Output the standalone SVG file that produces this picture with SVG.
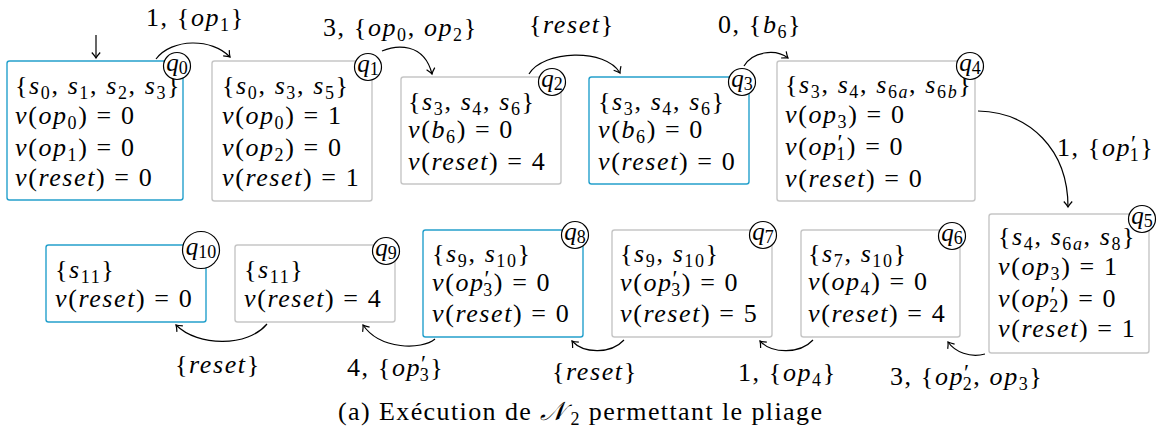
<svg xmlns="http://www.w3.org/2000/svg" width="1158" height="446" viewBox="0 0 1158 446">
<style>
.box{fill:#fff;stroke:#c6c6c6;stroke-width:1.4}
.blue{stroke:#24a0cc}
.t{font-family:'Liberation Serif','DejaVu Serif',serif;font-size:26px;letter-spacing:1.6px;fill:#000}
.i{font-style:italic}
.s{font-size:18px}
.p{font-size:23px}
.c{fill:#fff;stroke:#000;stroke-width:1.2}
.q{font-family:'Liberation Serif','DejaVu Serif',serif;font-size:25px;fill:#000;text-anchor:middle}
.e{fill:none;stroke:#000;stroke-width:1.2;marker-end:url(#arr)}
.cap{font-family:'Liberation Serif','DejaVu Serif',serif;font-size:26px;fill:#000}
</style>
<defs>
<marker id="arr" viewBox="-7 -6 9 12" markerWidth="9" markerHeight="12" refX="0" refY="0" orient="auto" markerUnits="userSpaceOnUse">
<path d="M-5.5,-4.2 Q-2,-1 0,0 Q-2,1 -5.5,4.2" fill="none" stroke="#000" stroke-width="1.2"/>
</marker>
</defs>
<rect width="1158" height="446" fill="#fff"/>

<g id="q0">
<rect class="box blue" x="7" y="61" width="176" height="139" rx="2.5"/>
<text class="t" x="15" y="94">{<tspan class="i">s</tspan><tspan class="s" dy="5">0</tspan><tspan dy="-5">, </tspan><tspan class="i">s</tspan><tspan class="s" dy="5">1</tspan><tspan dy="-5">, </tspan><tspan class="i">s</tspan><tspan class="s" dy="5">2</tspan><tspan dy="-5">, </tspan><tspan class="i">s</tspan><tspan class="s" dy="5">3</tspan><tspan dy="-5">}</tspan></text>
<text class="t" x="15" y="124"><tspan class="i">v</tspan>(<tspan class="i">op</tspan><tspan class="s" dy="5">0</tspan><tspan dy="-5">) = 0</tspan></text>
<text class="t" x="15" y="156"><tspan class="i">v</tspan>(<tspan class="i">op</tspan><tspan class="s" dy="5">1</tspan><tspan dy="-5">) = 0</tspan></text>
<text class="t" x="15" y="186"><tspan class="i">v</tspan>(<tspan class="i">reset</tspan>) = 0</text>
<circle class="c" cx="177" cy="66" r="13.5"/>
<text class="q" x="177" y="71"><tspan class="i">q</tspan><tspan class="s" dy="3">0</tspan></text>
</g>

<g id="q1">
<rect class="box" x="212" y="61" width="160" height="140" rx="2.5"/>
<text class="t" x="222" y="94">{<tspan class="i">s</tspan><tspan class="s" dy="5">0</tspan><tspan dy="-5">, </tspan><tspan class="i">s</tspan><tspan class="s" dy="5">3</tspan><tspan dy="-5">, </tspan><tspan class="i">s</tspan><tspan class="s" dy="5">5</tspan><tspan dy="-5">}</tspan></text>
<text class="t" x="222" y="124"><tspan class="i">v</tspan>(<tspan class="i">op</tspan><tspan class="s" dy="5">0</tspan><tspan dy="-5">) = 1</tspan></text>
<text class="t" x="222" y="156"><tspan class="i">v</tspan>(<tspan class="i">op</tspan><tspan class="s" dy="5">2</tspan><tspan dy="-5">) = 0</tspan></text>
<text class="t" x="222" y="186"><tspan class="i">v</tspan>(<tspan class="i">reset</tspan>) = 1</text>
<circle class="c" cx="368" cy="67" r="13.5"/>
<text class="q" x="368" y="72"><tspan class="i">q</tspan><tspan class="s" dy="3">1</tspan></text>
</g>

<g id="q2">
<rect class="box" x="401" y="77" width="160" height="107" rx="2.5"/>
<text class="t" x="408" y="110">{<tspan class="i">s</tspan><tspan class="s" dy="5">3</tspan><tspan dy="-5">, </tspan><tspan class="i">s</tspan><tspan class="s" dy="5">4</tspan><tspan dy="-5">, </tspan><tspan class="i">s</tspan><tspan class="s" dy="5">6</tspan><tspan dy="-5">}</tspan></text>
<text class="t" x="408" y="138"><tspan class="i">v</tspan>(<tspan class="i">b</tspan><tspan class="s" dy="5">6</tspan><tspan dy="-5">) = 0</tspan></text>
<text class="t" x="408" y="170"><tspan class="i">v</tspan>(<tspan class="i">reset</tspan>) = 4</text>
<circle class="c" cx="552" cy="82" r="13.5"/>
<text class="q" x="552" y="87"><tspan class="i">q</tspan><tspan class="s" dy="3">2</tspan></text>
</g>

<g id="q3">
<rect class="box blue" x="589" y="77" width="160" height="107" rx="2.5"/>
<text class="t" x="598" y="110">{<tspan class="i">s</tspan><tspan class="s" dy="5">3</tspan><tspan dy="-5">, </tspan><tspan class="i">s</tspan><tspan class="s" dy="5">4</tspan><tspan dy="-5">, </tspan><tspan class="i">s</tspan><tspan class="s" dy="5">6</tspan><tspan dy="-5">}</tspan></text>
<text class="t" x="598" y="138"><tspan class="i">v</tspan>(<tspan class="i">b</tspan><tspan class="s" dy="5">6</tspan><tspan dy="-5">) = 0</tspan></text>
<text class="t" x="598" y="170"><tspan class="i">v</tspan>(<tspan class="i">reset</tspan>) = 0</text>
<circle class="c" cx="742" cy="82" r="13.5"/>
<text class="q" x="742" y="87"><tspan class="i">q</tspan><tspan class="s" dy="3">3</tspan></text>
</g>

<g id="q4">
<rect class="box" x="777" y="61" width="198" height="140" rx="2.5"/>
<text class="t" x="785" y="93">{<tspan class="i">s</tspan><tspan class="s" dy="5">3</tspan><tspan dy="-5">, </tspan><tspan class="i">s</tspan><tspan class="s" dy="5">4</tspan><tspan dy="-5">, </tspan><tspan class="i">s</tspan><tspan class="s" dy="5">6<tspan class="i">a</tspan></tspan><tspan dy="-5">, </tspan><tspan class="i">s</tspan><tspan class="s" dy="5">6<tspan class="i">b</tspan></tspan><tspan dy="-5">}</tspan></text>
<text class="t" x="785" y="123"><tspan class="i">v</tspan>(<tspan class="i">op</tspan><tspan class="s" dy="5">3</tspan><tspan dy="-5">) = 0</tspan></text>
<text class="t" x="785" y="155"><tspan class="i">v</tspan>(<tspan class="i">op</tspan><tspan class="p" dy="-5">′</tspan><tspan class="s" dx="-8" dy="10">1</tspan><tspan dy="-5">) = 0</tspan></text>
<text class="t" x="785" y="187"><tspan class="i">v</tspan>(<tspan class="i">reset</tspan>) = 0</text>
<circle class="c" cx="970" cy="66" r="13.5"/>
<text class="q" x="970" y="71"><tspan class="i">q</tspan><tspan class="s" dy="3">4</tspan></text>
</g>

<g id="q5">
<rect class="box" x="989" y="214" width="160" height="139" rx="2.5"/>
<text class="t" x="998" y="245">{<tspan class="i">s</tspan><tspan class="s" dy="5">4</tspan><tspan dy="-5">, </tspan><tspan class="i">s</tspan><tspan class="s" dy="5">6<tspan class="i">a</tspan></tspan><tspan dy="-5">, </tspan><tspan class="i">s</tspan><tspan class="s" dy="5">8</tspan><tspan dy="-5">}</tspan></text>
<text class="t" x="998" y="275"><tspan class="i">v</tspan>(<tspan class="i">op</tspan><tspan class="s" dy="5">3</tspan><tspan dy="-5">) = 1</tspan></text>
<text class="t" x="998" y="307"><tspan class="i">v</tspan>(<tspan class="i">op</tspan><tspan class="p" dy="-5">′</tspan><tspan class="s" dx="-8" dy="10">2</tspan><tspan dy="-5">) = 0</tspan></text>
<text class="t" x="998" y="337"><tspan class="i">v</tspan>(<tspan class="i">reset</tspan>) = 1</text>
<circle class="c" cx="1142" cy="219" r="13.5"/>
<text class="q" x="1142" y="224"><tspan class="i">q</tspan><tspan class="s" dy="3">5</tspan></text>
</g>

<g id="q6">
<rect class="box" x="801" y="230" width="159" height="107" rx="2.5"/>
<text class="t" x="808" y="262">{<tspan class="i">s</tspan><tspan class="s" dy="5">7</tspan><tspan dy="-5">, </tspan><tspan class="i">s</tspan><tspan class="s" dy="5">10</tspan><tspan dy="-5">}</tspan></text>
<text class="t" x="808" y="290"><tspan class="i">v</tspan>(<tspan class="i">op</tspan><tspan class="s" dy="5">4</tspan><tspan dy="-5">) = 0</tspan></text>
<text class="t" x="808" y="322"><tspan class="i">v</tspan>(<tspan class="i">reset</tspan>) = 4</text>
<circle class="c" cx="952" cy="236" r="13.5"/>
<text class="q" x="952" y="241"><tspan class="i">q</tspan><tspan class="s" dy="3">6</tspan></text>
</g>

<g id="q7">
<rect class="box" x="612" y="230" width="160" height="107" rx="2.5"/>
<text class="t" x="620" y="262">{<tspan class="i">s</tspan><tspan class="s" dy="5">9</tspan><tspan dy="-5">, </tspan><tspan class="i">s</tspan><tspan class="s" dy="5">10</tspan><tspan dy="-5">}</tspan></text>
<text class="t" x="620" y="291"><tspan class="i">v</tspan>(<tspan class="i">op</tspan><tspan class="p" dy="-5">′</tspan><tspan class="s" dx="-8" dy="10">3</tspan><tspan dy="-5">) = 0</tspan></text>
<text class="t" x="620" y="322"><tspan class="i">v</tspan>(<tspan class="i">reset</tspan>) = 5</text>
<circle class="c" cx="763" cy="235" r="13.5"/>
<text class="q" x="763" y="240"><tspan class="i">q</tspan><tspan class="s" dy="3">7</tspan></text>
</g>

<g id="q8">
<rect class="box blue" x="423" y="230" width="160" height="107" rx="2.5"/>
<text class="t" x="432" y="262">{<tspan class="i">s</tspan><tspan class="s" dy="5">9</tspan><tspan dy="-5">, </tspan><tspan class="i">s</tspan><tspan class="s" dy="5">10</tspan><tspan dy="-5">}</tspan></text>
<text class="t" x="432" y="291"><tspan class="i">v</tspan>(<tspan class="i">op</tspan><tspan class="p" dy="-5">′</tspan><tspan class="s" dx="-8" dy="10">3</tspan><tspan dy="-5">) = 0</tspan></text>
<text class="t" x="432" y="322"><tspan class="i">v</tspan>(<tspan class="i">reset</tspan>) = 0</text>
<circle class="c" cx="575" cy="235" r="13.5"/>
<text class="q" x="575" y="240"><tspan class="i">q</tspan><tspan class="s" dy="3">8</tspan></text>
</g>

<g id="q9">
<rect class="box" x="235" y="245" width="160" height="77" rx="2.5"/>
<text class="t" x="244" y="278">{<tspan class="i">s</tspan><tspan class="s" dy="5">11</tspan><tspan dy="-5">}</tspan></text>
<text class="t" x="244" y="307"><tspan class="i">v</tspan>(<tspan class="i">reset</tspan>) = 4</text>
<circle class="c" cx="386" cy="251" r="13.5"/>
<text class="q" x="386" y="256"><tspan class="i">q</tspan><tspan class="s" dy="3">9</tspan></text>
</g>

<g id="q10">
<rect class="box blue" x="46" y="245" width="160" height="77" rx="2.5"/>
<text class="t" x="55" y="278">{<tspan class="i">s</tspan><tspan class="s" dy="5">11</tspan><tspan dy="-5">}</tspan></text>
<text class="t" x="55" y="307"><tspan class="i">v</tspan>(<tspan class="i">reset</tspan>) = 0</text>
<circle class="c" cx="201" cy="250" r="18.5"/>
<text class="q" x="201" y="255"><tspan class="i">q</tspan><tspan class="s" dy="3">10</tspan></text>
</g>

<g id="connectors">
<path class="e" d="M96,35 L96,58"/>
<path class="e" d="M156,59 C172,38 212,38 230,57"/>
<path class="e" d="M382,51 C396,45 424,42 432,74"/>
<path class="e" d="M529,74 C543,50 606,48 620,73"/>
<path class="e" d="M744,66 C752,52 775,48 788,58"/>
<path class="e" d="M978,111 C1030,112 1068,150 1068,207"/>
<path class="e" d="M985,354 C970,358 955,352 948,342"/>
<path class="e" d="M813,340 C800,354 772,354 760,341"/>
<path class="e" d="M624,340 C611,354 584,354 572,341"/>
<path class="e" d="M435,339 C422,350 380,350 363,325"/>
<path class="e" d="M267,324 C248,347 198,347 176,325"/>
<text class="t" x="146" y="26">1, {<tspan class="i">op</tspan><tspan class="s" dy="5">1</tspan><tspan dy="-5">}</tspan></text>
<text class="t" x="323" y="36">3, {<tspan class="i">op</tspan><tspan class="s" dy="5">0</tspan><tspan dy="-5">, </tspan><tspan class="i">op</tspan><tspan class="s" dy="5">2</tspan><tspan dy="-5">}</tspan></text>
<text class="t" x="529" y="33">{<tspan class="i">reset</tspan>}</text>
<text class="t" x="718" y="33">0, {<tspan class="i">b</tspan><tspan class="s" dy="5">6</tspan><tspan dy="-5">}</tspan></text>
<text class="t" x="1057" y="156">1, {<tspan class="i">op</tspan><tspan class="p" dy="-5">′</tspan><tspan class="s" dx="-8" dy="10">1</tspan><tspan dy="-5">}</tspan></text>
<text class="t" x="890" y="385">3, {<tspan class="i">op</tspan><tspan class="p" dy="-5">′</tspan><tspan class="s" dx="-8" dy="10">2</tspan><tspan dy="-5">, </tspan><tspan class="i">op</tspan><tspan class="s" dy="5">3</tspan><tspan dy="-5">}</tspan></text>
<text class="t" x="738" y="381">1, {<tspan class="i">op</tspan><tspan class="s" dy="5">4</tspan><tspan dy="-5">}</tspan></text>
<text class="t" x="552" y="380">{<tspan class="i">reset</tspan>}</text>
<text class="t" x="347" y="376">4, {<tspan class="i">op</tspan><tspan class="p" dy="-5">′</tspan><tspan class="s" dx="-8" dy="10">3</tspan><tspan dy="-5">}</tspan></text>
<text class="t" x="175" y="373">{<tspan class="i">reset</tspan>}</text>
</g>

<text class="cap" x="338" y="420" textLength="484" lengthAdjust="spacing">(a) Exécution de <tspan class="i" font-family="'DejaVu Serif',serif">𝒩</tspan><tspan class="s" dx="4" dy="5">2</tspan><tspan dy="-5"> permettant le pliage</tspan></text>
</svg>
